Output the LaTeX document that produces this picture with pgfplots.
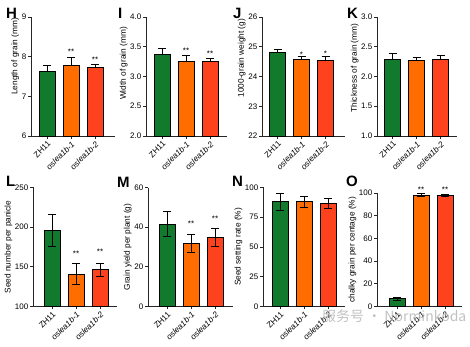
\documentclass[border=0pt]{standalone}
\usepackage{pgfplots}
\pgfplotsset{compat=1.18}
\usepackage{fontspec}
\setmainfont{Liberation Sans}
\newfontfamily\cjk{Noto Sans CJK SC}
\definecolor{cgreen}{RGB}{18,122,44}
\definecolor{corange}{RGB}{255,108,0}
\definecolor{cred}{RGB}{255,66,30}
\pgfplotsset{
  panel/.style={
    scale only axis,
    height=119pt,
    axis x line=bottom, axis y line=left,
    axis line style={-, line width=0.8pt, black!85},
    tick style={line width=0.8pt, black!85},
    tick align=outside, major tick length=3pt,
    xtick={0,1,2},
    xticklabels={ZH11,\textit{oslea1b-1},\textit{oslea1b-2}},
    x tick label style={rotate=45, anchor=north east, inner sep=1pt, font=\fontsize{8.2}{9}\selectfont},
    y tick label style={font=\fontsize{8}{9}\selectfont, inner sep=1.5pt},
    ylabel style={font=\fontsize{8.3}{9}\selectfont, inner sep=1pt},
    /pgf/number format/assume math mode=true,
    clip=false,
  },
  mybar/.style={ybar, bar shift=0pt, bar width=16pt, fill=#1, draw=black, line width=0.7pt,
    error bars/y explicit,
    error bars/error bar style={line width=0.7pt, black, solid},
    error bars/error mark options={rotate=90, mark size=4pt, line width=0.7pt, black}},
}
\tikzset{plabel/.style={anchor=base west, inner sep=0pt, font=\bfseries\fontsize{15}{15}\selectfont},
  star/.style={anchor=base, yshift=-4.7pt, inner sep=0pt, font=\fontsize{8}{9}\selectfont}}
\begin{document}
\begin{tikzpicture}
\path[use as bounding box] (0,0) rectangle (470pt,347pt);

% ---------------- Row 1 ----------------
\begin{axis}[panel, at={(31pt,211pt)}, anchor=south west, width=84pt,
  xmin=-0.667, xmax=2.833, ymin=6, ymax=9, ytick={6,7,8,9},
  ylabel={Length of grain (mm)}, ylabel style={at={(ticklabel cs:0.67)}}]
\addplot[mybar=cgreen, error bars/y dir=plus] coordinates {(0,7.62) +- (0,0.15)};
\addplot[mybar=corange, error bars/y dir=plus] coordinates {(1,7.79) +- (0,0.19)};
\addplot[mybar=cred, error bars/y dir=plus] coordinates {(2,7.72) +- (0,0.09)};
\node[star] at (axis cs:1,8.17) {**};
\node[star] at (axis cs:2,7.97) {**};
\end{axis}

\begin{axis}[panel, at={(146pt,211pt)}, anchor=south west, width=81pt,
  xmin=-0.667, xmax=2.708, ymin=2, ymax=4, ytick={2,2.5,3,3.5,4},
  yticklabel style={/pgf/number format/.cd, fixed, fixed zerofill, precision=1},
  ylabel={Width of grain (mm)}, ylabel style={at={(ticklabel cs:0.61)}}]
\addplot[mybar=cgreen, error bars/y dir=plus] coordinates {(0,3.37) +- (0,0.10)};
\addplot[mybar=corange, error bars/y dir=plus] coordinates {(1,3.26) +- (0,0.10)};
\addplot[mybar=cred, error bars/y dir=plus] coordinates {(2,3.26) +- (0,0.04)};
\node[star] at (axis cs:1,3.47) {**};
\node[star] at (axis cs:2,3.41) {**};
\end{axis}

\begin{axis}[panel, at={(262pt,211pt)}, anchor=south west, width=83pt,
  xmin=-0.646, xmax=2.812, ymin=22, ymax=26, ytick={22,23,24,25,26},
  ylabel={1000-grain weight (g)}, ylabel style={at={(ticklabel cs:0.655)}}]
\addplot[mybar=cgreen, error bars/y dir=plus] coordinates {(0,24.81) +- (0,0.10)};
\addplot[mybar=corange, error bars/y dir=plus] coordinates {(1,24.58) +- (0,0.09)};
\addplot[mybar=cred, error bars/y dir=plus] coordinates {(2,24.53) +- (0,0.14)};
\node[star] at (axis cs:1,24.81) {*};
\node[star] at (axis cs:2,24.84) {*};
\end{axis}

\begin{axis}[panel, at={(377pt,211pt)}, anchor=south west, width=80pt,
  xmin=-0.646, xmax=2.687, ymin=1, ymax=3, ytick={1,1.5,2,2.5,3},
  yticklabel style={/pgf/number format/.cd, fixed, fixed zerofill, precision=1},
  ylabel={Thickness of grain (mm)}, ylabel style={at={(ticklabel cs:0.57)}}]
\addplot[mybar=cgreen, error bars/y dir=plus] coordinates {(0,2.29) +- (0,0.10)};
\addplot[mybar=corange, error bars/y dir=plus] coordinates {(1,2.27) +- (0,0.06)};
\addplot[mybar=cred, error bars/y dir=plus] coordinates {(2,2.29) +- (0,0.07)};
\end{axis}

% ---------------- Row 2 ----------------
\begin{axis}[panel, at={(33pt,40.5pt)}, anchor=south west, width=84pt,
  xmin=-0.792, xmax=2.708, ymin=100, ymax=250, ytick={100,150,200,250},
  ylabel={Seed number per panicle}]
\addplot[mybar=cgreen, error bars/y dir=both] coordinates {(0,196) +- (0,20)};
\addplot[mybar=corange, error bars/y dir=both] coordinates {(1,141) +- (0,13)};
\addplot[mybar=cred, error bars/y dir=both] coordinates {(2,146.5) +- (0,8.5)};
\node[star] at (axis cs:1,169.3) {**};
\node[star] at (axis cs:2,171.8) {**};
\end{axis}

\begin{axis}[panel, at={(148pt,40.5pt)}, anchor=south west, width=85pt,
  xmin=-0.792, xmax=2.75, ymin=0, ymax=60, ytick={0,20,40,60},
  ylabel={Grain yield per plant (g)}]
\addplot[mybar=cgreen, error bars/y dir=both] coordinates {(0,41.5) +- (0,6.3)};
\addplot[mybar=corange, error bars/y dir=both] coordinates {(1,31.8) +- (0,4.6)};
\addplot[mybar=cred, error bars/y dir=both] coordinates {(2,34.8) +- (0,4.4)};
\node[star] at (axis cs:1,42.6) {**};
\node[star] at (axis cs:2,45.1) {**};
\end{axis}

\begin{axis}[panel, at={(263pt,40.5pt)}, anchor=south west, width=82pt,
  xmin=-0.708, xmax=2.708, ymin=0, ymax=100, ytick={0,25,50,75,100},
  ylabel={Seed setting rate (\%)}]
\addplot[mybar=cgreen, error bars/y dir=both] coordinates {(0,88) +- (0,7.5)};
\addplot[mybar=corange, error bars/y dir=both] coordinates {(1,88) +- (0,4.8)};
\addplot[mybar=cred, error bars/y dir=both] coordinates {(2,86.3) +- (0,4.2)};
\end{axis}

\begin{axis}[panel, at={(377pt,40.5pt)}, anchor=south west, width=85pt, height=113.5pt,
  xmin=-0.833, xmax=2.708, ymin=0, ymax=100, ytick={0,20,40,60,80,100},
  ylabel={chalky grain per centage (\%)}]
\addplot[mybar=cgreen, error bars/y dir=both] coordinates {(0,6.8) +- (0,1.4)};
\addplot[mybar=corange, error bars/y dir=both] coordinates {(1,98.2) +- (0,1.2)};
\addplot[mybar=cred, error bars/y dir=both] coordinates {(2,98.2) +- (0,0.9)};
\node[star] at (axis cs:1,104.4) {**};
\node[star] at (axis cs:2,104.4) {**};
\end{axis}

% panel letters
\node[plabel] at (6pt,328pt) {H};
\node[plabel] at (118pt,328pt) {I};
\node[plabel] at (233pt,328pt) {J};
\node[plabel] at (347pt,328pt) {K};
\node[plabel] at (6pt,160pt) {L};
\node[plabel] at (117pt,159pt) {M};
\node[plabel] at (232pt,160pt) {N};
\node[plabel] at (346pt,160pt) {O};

% watermark
\node[anchor=west, inner sep=0pt, text=black!30, opacity=0.8, font=\cjk\fontsize{14}{14}\selectfont] at (322pt,31pt) {服务号 · Norminkoda};
\end{tikzpicture}
\end{document}
